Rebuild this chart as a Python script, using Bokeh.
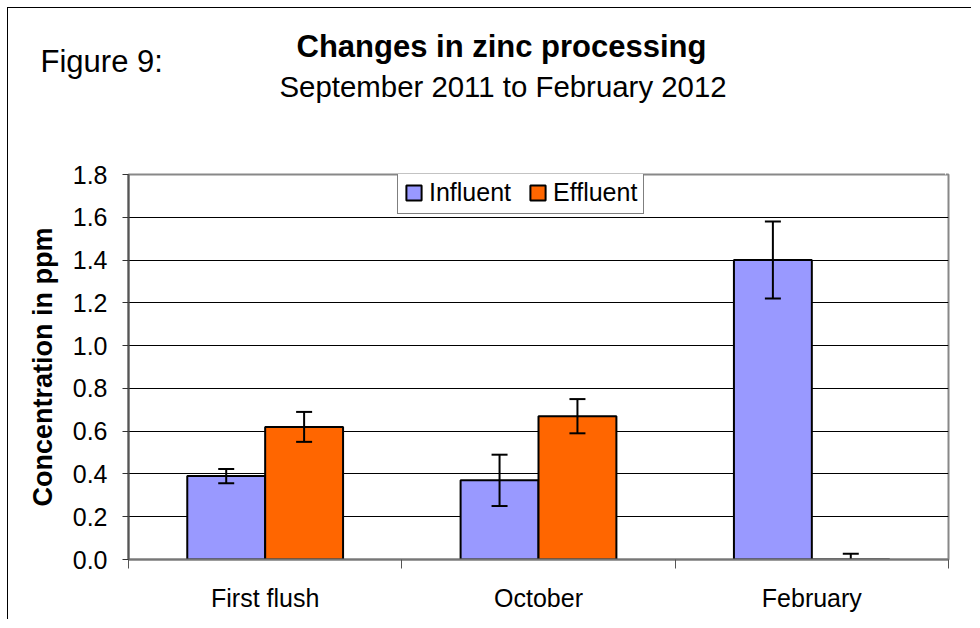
from bokeh.plotting import figure
from bokeh.models import (Range1d, FixedTicker, PrintfTickFormatter, Legend, LegendItem,
                          ColumnDataSource, Title, LinearAxis)
from bokeh.embed import file_html
from bokeh.resources import INLINE

categories = ["First flush", "October", "February"]
influent = [0.39, 0.37, 1.40]
influent_err = [0.033, 0.12, 0.18]
effluent = [0.62, 0.67, 0.0]
effluent_err = [0.07, 0.08, 0.027]
y_ticks = [0.0, 0.2, 0.4, 0.6, 0.8, 1.0, 1.2, 1.4, 1.6, 1.8]

FONT = "Liberation Sans"
BAR_W = 0.285
x_inf = [i + 0.5 - BAR_W / 2 for i in range(len(categories))]
x_eff = [i + 0.5 + BAR_W / 2 for i in range(len(categories))]

p = figure(width=964, height=612, output_backend="svg", toolbar_location=None, title=None,
           x_range=Range1d(0, 3), y_range=Range1d(0, 1.8),
           min_border_left=120, min_border_right=24, min_border_top=166, min_border_bottom=61)
p.styles = {"margin-left": "7px", "margin-top": "7px",
            "border-left": "1px solid black", "border-top": "1px solid black"}
p.background_fill_color = "white"
p.border_fill_color = "white"
p.outline_line_color = "#888888"
p.outline_line_width = 2

src_inf = ColumnDataSource(dict(x=x_inf, top=influent,
                                lo=[v - e for v, e in zip(influent, influent_err)],
                                hi=[v + e for v, e in zip(influent, influent_err)]))
src_eff = ColumnDataSource(dict(x=x_eff, top=effluent,
                                lo=[v - e for v, e in zip(effluent, effluent_err)],
                                hi=[v + e for v, e in zip(effluent, effluent_err)]))

r_inf = p.vbar(x="x", top="top", bottom=0, width=BAR_W, source=src_inf,
               fill_color="#9999FF", line_color="black", line_width=2)
r_eff = p.vbar(x="x", top="top", bottom=0, width=BAR_W, source=src_eff,
               fill_color="#FF6600", line_color="black", line_width=2)

for src in (src_inf, src_eff):
    p.segment(x0="x", x1="x", y0="lo", y1="hi", source=src, line_color="black", line_width=2)
    p.scatter(x="x", y="lo", source=src, marker="dash", size=16, line_color="black", line_width=2)
    p.scatter(x="x", y="hi", source=src, marker="dash", size=16, line_color="black", line_width=2)

# grid
p.xgrid.visible = False
p.ygrid.ticker = FixedTicker(ticks=y_ticks)
p.ygrid.grid_line_color = "black"
p.ygrid.grid_line_width = 1

# y axis
ya = p.yaxis[0]
ya.ticker = FixedTicker(ticks=y_ticks)
ya.formatter = PrintfTickFormatter(format="%.1f")
ya.axis_label = "Concentration in ppm"
ya.axis_label_text_font = FONT
ya.axis_label_text_font_style = "bold"
ya.axis_label_text_font_size = "27px"
ya.axis_label_text_color = "black"
ya.axis_label_standoff = 12
ya.major_label_text_font = FONT
ya.major_label_text_font_size = "25px"
ya.major_label_text_color = "black"
ya.major_label_standoff = 15
ya.major_tick_out = 6
ya.major_tick_in = 0
ya.minor_tick_out = 0
ya.minor_tick_in = 0
ya.axis_line_color = "#555555"
ya.axis_line_width = 2
ya.major_tick_line_color = "#333333"

# x axis
xa = p.xaxis[0]
xa.ticker = FixedTicker(ticks=[i + 0.5 for i in range(len(categories))],
                        minor_ticks=list(range(len(categories) + 1)))
xa.major_label_overrides = {i + 0.5: c for i, c in enumerate(categories)}
xa.major_label_text_font = FONT
xa.major_label_text_font_size = "25px"
xa.major_label_text_color = "black"
xa.major_label_standoff = 15
xa.major_tick_out = 0
xa.major_tick_in = 0
xa.minor_tick_out = 9
xa.minor_tick_in = 0
xa.minor_tick_line_color = "#555555"
xa.axis_line_color = "#777777"
xa.axis_line_width = 2

# legend
legend = Legend(items=[LegendItem(label="Influent", renderers=[r_inf]),
                       LegendItem(label="Effluent", renderers=[r_eff])],
                orientation="horizontal", location=(269, 345),
                label_text_font=FONT, label_text_font_size="25px", label_text_color="black",
                glyph_width=19, glyph_height=19, label_standoff=6, spacing=17,
                padding=6, margin=0, border_line_color="black", border_line_width=1,
                background_fill_color="white", background_fill_alpha=1.0)
p.add_layout(legend, "center")

# spacer between plot frame and titles: a blank axis with one white tick
SPACER_TICK = 2.99
spacer = LinearAxis(ticker=FixedTicker(ticks=[SPACER_TICK], minor_ticks=[]), axis_line_color=None,
                    major_tick_out=72, major_tick_in=0, minor_tick_out=0, minor_tick_in=0,
                    major_label_standoff=0, major_tick_line_color="white",
                    major_label_overrides={SPACER_TICK: ""}, major_label_text_font_size="1px")
p.add_layout(spacer, "above")

# titles (stacked upward from the plot)
p.add_layout(Title(text="September 2011 to February 2012", align="left", offset=151,
                   vertical_align="bottom", standoff=0, text_font=FONT,
                   text_font_size="29.4px", text_font_style="normal", text_color="black"), "above")
p.add_layout(Title(text="Figure 9:", align="left", offset=-88,
                   vertical_align="top", standoff=-26, text_font=FONT,
                   text_font_size="31px", text_font_style="normal", text_color="black"), "above")
p.add_layout(Title(text="Changes in zinc processing", align="left", offset=168,
                   vertical_align="bottom", standoff=-14, text_font=FONT,
                   text_font_size="31px", text_font_style="bold", text_color="black"), "above")

open("out.html", "w").write(file_html(p, INLINE))
